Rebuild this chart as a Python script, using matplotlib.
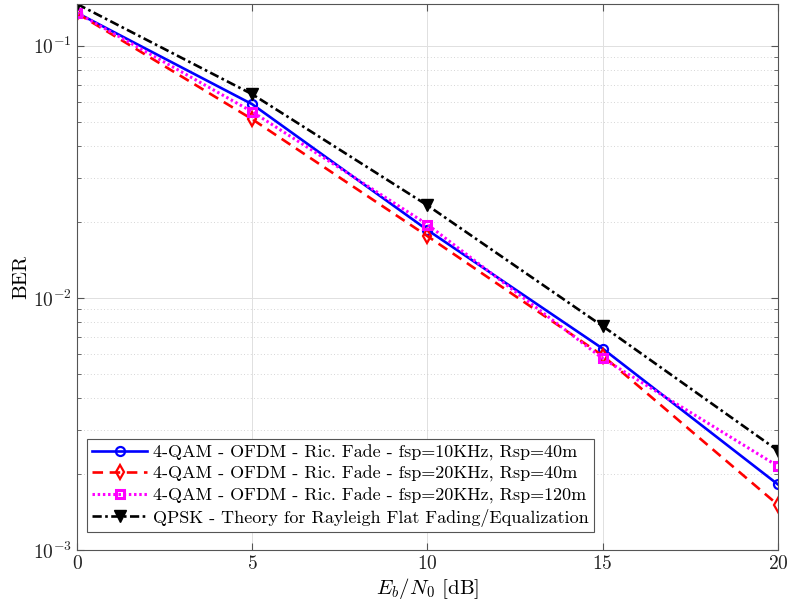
import numpy as np
import matplotlib
matplotlib.use("Agg")
import matplotlib.pyplot as plt
from matplotlib.ticker import LogLocator, NullFormatter

plt.rcParams['font.family'] = 'serif'
plt.rcParams['font.serif'] = ['cmr10', 'DejaVu Serif']
plt.rcParams['mathtext.fontset'] = 'cm'
plt.rcParams['axes.unicode_minus'] = False
plt.rcParams['axes.formatter.use_mathtext'] = True

ebn0 = [0, 5, 10, 15, 20]
ber_10k_40 = [0.1350, 0.0586, 0.01858, 0.00629, 0.00182]
ber_20k_40 = [0.1345, 0.0511, 0.01757, 0.00590, 0.00151]
ber_20k_120 = [0.1350, 0.0547, 0.01954, 0.00575, 0.00215]
ber_theory = [0.1464, 0.0642, 0.02327, 0.00772, 0.00248]

labels = [
    "4-QAM - OFDM - Ric. Fade - fsp=10KHz, Rsp=40m",
    "4-QAM - OFDM - Ric. Fade - fsp=20KHz, Rsp=40m",
    "4-QAM - OFDM - Ric. Fade - fsp=20KHz, Rsp=120m",
    "QPSK - Theory for Rayleigh Flat Fading/Equalization",
]

fig = plt.figure(figsize=(7.89, 6.11), dpi=100)
ax = fig.add_axes([0.0976, 0.0998, 0.8884, 0.8937])

ax.semilogy(ebn0, ber_10k_40, color='blue', linestyle='-', linewidth=1.9,
            marker='o', markersize=6.5, markerfacecolor='none', markeredgewidth=1.6, label=labels[0])
ax.semilogy(ebn0, ber_20k_40, color='red', linestyle=(0, (4, 2.5)), linewidth=1.9,
            marker='d', markersize=7, markerfacecolor='none', markeredgewidth=1.6, label=labels[1])
ax.semilogy(ebn0, ber_20k_120, color='magenta', linestyle=(0, (0.8, 0.9)), linewidth=2.2,
            marker='s', markersize=5.5, markerfacecolor='none', markeredgewidth=2.2, label=labels[2])
ax.semilogy(ebn0, ber_theory, color='black', linestyle=(0, (3.5, 1.3, 1, 1.3)), linewidth=1.9,
            marker='v', markersize=8, markerfacecolor='black', label=labels[3])

ax.set_xlim(0, 20)
ax.set_ylim(1e-3, 0.1464)
ax.set_xticks([0, 5, 10, 15, 20])
ax.yaxis.set_major_locator(LogLocator(base=10, numticks=10))
ax.yaxis.set_minor_locator(LogLocator(base=10, subs=np.arange(2, 10), numticks=20))
ax.yaxis.set_minor_formatter(NullFormatter())

ax.grid(True, which='major', color='#e0e0e0', linewidth=0.7, linestyle='-')
ax.grid(True, which='minor', axis='y', color='#c8c8c8', linewidth=0.6, linestyle=(0, (1, 3)))
ax.set_axisbelow(True)

for s in ax.spines.values():
    s.set_color('#555555')
    s.set_linewidth(0.8)
ax.tick_params(which='both', direction='in', top=True, right=True, colors='#555555', labelcolor='#222222', labelsize=14)
ax.tick_params(which='major', length=5)
ax.tick_params(which='minor', length=3)

ax.set_xlabel(r"$E_b/N_0$ [dB]", fontsize=15, labelpad=2)
ax.set_ylabel("BER", fontsize=15, labelpad=2)

leg = ax.legend(loc='lower left', bbox_to_anchor=(0.0143, 0.033), fontsize=13, frameon=True,
                fancybox=False, edgecolor='#555555', framealpha=1, handlelength=3.0,
                borderpad=0.3, labelspacing=0.28, handletextpad=0.35, borderaxespad=0)
leg.get_frame().set_linewidth(0.8)

fig.savefig("out.png", dpi=100)
